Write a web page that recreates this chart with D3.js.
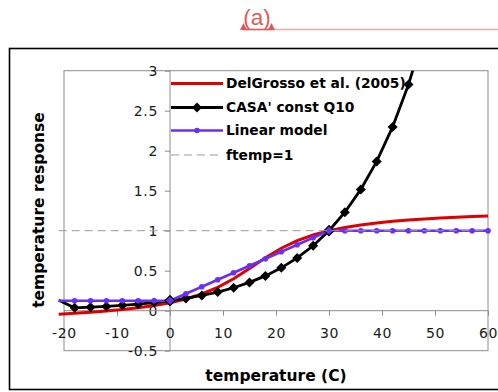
<!DOCTYPE html>
<html>
<head>
<meta charset="utf-8">
<script src="https://cdn.jsdelivr.net/npm/d3@7"></script>
<style>
  html, body { margin: 0; padding: 0; background: #fff; }
  svg { display: block; }
</style>
</head>
<body>
<svg id="chart" width="498" height="392"></svg>
<script>
// ---------- data ----------
const temps = [-21,-18,-15,-12,-9,-6,-3,0,3,6,9,12,15,18,21,24,27,30,33,36,39,42,45,48,51,54,57,60];
const delGrosso = [-0.043,-0.032,-0.020,-0.005,0.014,0.036,0.064,0.100,0.147,0.209,0.292,0.400,0.528,0.662,0.781,0.875,0.946,1.000,1.040,1.072,1.097,1.117,1.133,1.146,1.158,1.168,1.176,1.184];
const casaTemps = [-21,-18,-15,-12,-9,-6,-3,0,3,6,9,12,15,18,21,24,27,30,33,36,39,42,45,48];
const casaQ10 = [0.13,0.036,0.044,0.054,0.067,0.082,0.102,0.125,0.154,0.190,0.233,0.287,0.354,0.435,0.536,0.660,0.812,1.000,1.231,1.516,1.866,2.297,2.828,3.482];
const linearModel = [0.125,0.125,0.125,0.125,0.125,0.125,0.125,0.125,0.2125,0.30,0.3875,0.475,0.5625,0.65,0.7375,0.825,0.9125,1,1,1,1,1,1,1,1,1,1,1];
const ftemp = temps.map(() => 1);
const xTicks = [-20,-10,0,10,20,30,40,50,60];
const yTicks = [-0.5,0,0.5,1,1.5,2,2.5,3];
const seriesNames = ["DelGrosso et al. (2005)", "CASA' const Q10", "Linear model", "ftemp=1"];

// ---------- layout ----------
const svg = d3.select("#chart");
const W = 498, H = 392;
const plot = {left: 64, right: 488, top: 70.7, bottom: 350.7};
const x = d3.scaleLinear().domain([-20, 60]).range([plot.left, plot.right]);
const y = d3.scaleLinear().domain([-0.5, 3]).range([plot.bottom, plot.top]);

const RED = "#e00000", PURPLE = "#6a2ff5", GRAY = "#8c8c8c";

// annotation at top "(a)"
const ann = svg.append("g");
ann.append("line").attr("x1", 272).attr("x2", 498).attr("y1", 29.5).attr("y2", 29.5)
  .attr("stroke", "#f6a8a8").attr("stroke-width", 1.6);
ann.append("line").attr("x1", 243).attr("x2", 272).attr("y1", 29.5).attr("y2", 29.5)
  .attr("stroke", "#e25555").attr("stroke-width", 1.6);
[243.5, 271.5].forEach(cx => {
  ann.append("path").attr("d", `M${cx-3.5},30 L${cx},23 L${cx+3.5},30 Z`).attr("fill", "#e25555");
});
ann.append("text").attr("x", 257).attr("y", 25).attr("text-anchor", "middle")
  .attr("font-family", "Liberation Sans, Arial, sans-serif").attr("font-size", 22.5)
  .attr("fill", "#e25a5a").text("(a)");

// outer frame
svg.append("rect").attr("x", 9.5).attr("y", 48.5).attr("width", 500).attr("height", 341)
  .attr("fill", "none").attr("stroke", "#000").attr("stroke-width", 1.6);

// plot box
svg.append("rect").attr("x", plot.left).attr("y", plot.top)
  .attr("width", plot.right - plot.left).attr("height", plot.bottom - plot.top)
  .attr("fill", "none").attr("stroke", GRAY).attr("stroke-width", 1);

// axes
const fmt = d => (d === -0.5 ? "-0.5" : String(d));
const yAxis = d3.axisLeft(y).tickValues(yTicks).tickSize(5).tickPadding(7).tickFormat(fmt);
const gy = svg.append("g").attr("transform", `translate(${x(0)},0)`).call(yAxis);
const xAxis = d3.axisBottom(x).tickValues(xTicks).tickSize(5).tickPadding(12).tickFormat(d => String(d));
const gx = svg.append("g").attr("transform", `translate(0,${y(0)})`).call(xAxis);
[gx, gy].forEach(g => {
  g.select(".domain").attr("stroke", GRAY);
  g.selectAll(".tick line").attr("stroke", GRAY);
  g.selectAll(".tick text").attr("font-family", "DejaVu Sans, Verdana, sans-serif")
    .attr("font-size", 14).attr("letter-spacing", "0.7px").attr("fill", "#1a1a1a");
});
gy.select(".domain").attr("d", `M0,${plot.top}V${plot.bottom}`);
gx.select(".domain").attr("d", `M${plot.left},0H${plot.right}`);

// clip
svg.append("clipPath").attr("id", "clip").append("rect")
  .attr("x", 0).attr("y", plot.top).attr("width", W).attr("height", H - plot.top);
const g = svg.append("g").attr("clip-path", "url(#clip)");

const line = d3.line().x(d => x(d[0])).y(d => y(d[1]));
const zip = (a, b) => a.map((v, i) => [v, b[i]]);

// DelGrosso
g.append("path").datum(zip(temps, delGrosso)).attr("d", line)
  .attr("fill", "none").attr("stroke", RED).attr("stroke-width", 3);

// CASA
const casaPts = zip(casaTemps, casaQ10);
g.append("path").datum(casaPts).attr("d", line)
  .attr("fill", "none").attr("stroke", "#000").attr("stroke-width", 2.8);
const diamond = d3.symbol().type(d3.symbolSquare).size(50);
g.selectAll(".casaM").data(casaPts.filter(d => d[0] >= -20 && d[1] <= 3)).join("path")
  .attr("transform", d => `translate(${x(d[0])},${y(d[1])}) rotate(45)`)
  .attr("d", diamond).attr("fill", "#000");

// Linear
const linPts = zip(temps, linearModel);
g.append("path").datum(linPts).attr("d", line)
  .attr("fill", "none").attr("stroke", PURPLE).attr("stroke-width", 2.6);
g.selectAll(".linM").data(linPts.filter(d => d[0] >= -20)).join("circle")
  .attr("cx", d => x(d[0])).attr("cy", d => y(d[1])).attr("r", 2.8).attr("fill", PURPLE);
// diamonds with purple fill where both coincide
g.selectAll(".both").data(linPts.filter(d => d[0] === 0 || d[0] === 30)).join("path")
  .attr("transform", d => `translate(${x(d[0])},${y(d[1])}) rotate(45)`)
  .attr("d", diamond).attr("fill", PURPLE).attr("stroke", "#000").attr("stroke-width", 1.2);

// ftemp = 1
g.append("path").datum(zip(temps, ftemp)).attr("d", line)
  .attr("fill", "none").attr("stroke", "#9a9a9a").attr("stroke-width", 1).attr("stroke-dasharray", "8,5");

// legend
const leg = svg.append("g");
const legY = [83.5, 107.5, 130.5, 155];
const lx1 = 171, lx2 = 223;
seriesNames.forEach((name, i) => {
  const row = leg.append("g");
  const ly = legY[i];
  const ln = row.append("line").attr("x1", lx1).attr("x2", lx2).attr("y1", ly).attr("y2", ly);
  if (i === 0) ln.attr("stroke", RED).attr("stroke-width", 3);
  if (i === 1) {
    ln.attr("stroke", "#000").attr("stroke-width", 2.8);
    row.append("path").attr("transform", `translate(197,${ly}) rotate(45)`).attr("d", diamond).attr("fill", "#000");
  }
  if (i === 2) {
    ln.attr("stroke", PURPLE).attr("stroke-width", 2.6);
    row.append("circle").attr("cx", 197).attr("cy", ly).attr("r", 2.8).attr("fill", PURPLE);
  }
  if (i === 3) ln.attr("stroke", "#9a9a9a").attr("stroke-width", 1).attr("stroke-dasharray", "8,5");
  row.append("text").attr("x", 226).attr("y", ly).attr("dy", "0.36em")
    .attr("font-family", "DejaVu Sans, Verdana, sans-serif").attr("font-weight", "bold")
    .attr("font-size", 13.8).attr("fill", "#000").text(name);
});

// axis titles
svg.append("text").attr("x", 276).attr("y", 381).attr("text-anchor", "middle")
  .attr("font-family", "DejaVu Sans, Verdana, sans-serif").attr("font-weight", "bold")
  .attr("font-size", 15.5).attr("fill", "#000").text("temperature (C)");
svg.append("text").attr("transform", "translate(44,210) rotate(-90)").attr("text-anchor", "middle")
  .attr("font-family", "DejaVu Sans, Verdana, sans-serif").attr("font-weight", "bold")
  .attr("font-size", 15.5).attr("fill", "#000").text("temperature response");
</script>
</body>
</html>
